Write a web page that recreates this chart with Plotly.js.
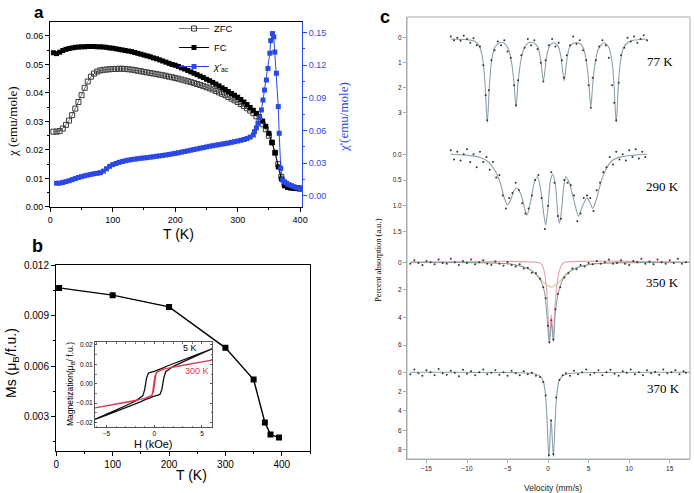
<!DOCTYPE html>
<html><head><meta charset="utf-8">
<script src="https://cdn.plot.ly/plotly-3.0.1.min.js"></script>
<style>html,body{margin:0;padding:0;background:#fff}#chart{width:694px;height:493px}</style>
</head><body><div id="chart"></div>
<script>
// ---------- Panel a : chi vs T ----------
const aT = [5,10,15,20,25,30,35,40,45,50,55,60,65,70,75,80,85,90,95,100,105,110,115,120,125,130,135,140,145,150,155,160,165,170,175,180,185,190,195,200,205,210,215,220,225,230,235,240,245,250,255,260,265,270,275,280,285,290,295,300,305,310,315,320,325,330,335,340,345,350,355,360,365,370,375,380,385,390,395,400];
const aZFC = [0.0264,0.0264,0.0266,0.0275,0.0288,0.0303,0.0322,0.0345,0.0368,0.0392,
0.0418,0.0440,0.0457,0.0468,0.0475,0.0479,0.0481,0.0482,0.0483,0.0484,
0.0484,0.0485,0.0485,0.0484,0.0483,0.0482,0.0480,0.0478,0.0476,0.0474,
0.0472,0.0470,0.0468,0.0466,0.0464,0.0462,0.0460,0.0457,0.0455,0.0452,
0.0450,0.0447,0.0444,0.0441,0.0438,0.0435,0.0431,0.0428,0.0424,0.0420,
0.0416,0.0412,0.0407,0.0402,0.0397,0.0392,0.0386,0.0380,0.0374,0.0368,
0.0361,0.0354,0.0346,0.0338,0.0329,0.0318,0.0306,0.0290,0.0272,0.0250,
0.0226,0.0190,0.0150,0.0105,0.0080,0.0072,0.0069,0.0067,0.0066,0.0065];
const aFC = [0.0541,0.0538,0.0543,0.0549,0.0553,0.0556,0.0558,0.0560,0.0561,0.0562,
0.0562,0.0563,0.0563,0.0563,0.0562,0.0562,0.0561,0.0560,0.0558,0.0557,
0.0555,0.0553,0.0551,0.0549,0.0547,0.0545,0.0542,0.0539,0.0536,0.0533,
0.0530,0.0527,0.0523,0.0520,0.0516,0.0512,0.0508,0.0504,0.0500,0.0497,
0.0493,0.0488,0.0484,0.0479,0.0474,0.0469,0.0464,0.0459,0.0454,0.0448,
0.0443,0.0437,0.0431,0.0425,0.0418,0.0412,0.0405,0.0398,0.0392,0.0385,
0.0377,0.0368,0.0359,0.0349,0.0339,0.0328,0.0316,0.0301,0.0283,0.0258,
0.0226,0.0190,0.0140,0.0098,0.0074,0.0068,0.0066,0.0065,0.0064,0.0063];
const acT = [10,15,20,25,30,35,40,45,50,55,60,65,70,75,80,85,90,95,100,105,110,115,120,125,130,135,140,145,150,155,160,165,170,175,180,185,190,195,200,205,210,215,220,225,230,235,240,245,250,255,260,265,270,275,280,285,290,295,300,305,310,315,320,325,
327,330,332.5,335,338,340.5,343,346,348.5,351.5,353,355.7,357.8,359.5,362,365,366.5,369,372,375,378,382,386,390,395,400];
const acV = [0.0117,0.0118,0.0124,0.0132,0.0140,0.0150,0.0160,0.0170,0.0178,0.0185,
0.0192,0.0198,0.0204,0.0208,0.0214,0.0228,0.0250,0.0272,0.0288,0.0298,
0.0308,0.0316,0.0323,0.0329,0.0334,0.0338,0.0342,0.0346,0.0349,0.0352,
0.0356,0.0360,0.0364,0.0368,0.0372,0.0376,0.0381,0.0386,0.0391,0.0396,
0.0402,0.0408,0.0414,0.0420,0.0426,0.0432,0.0438,0.0444,0.0450,0.0456,
0.0461,0.0466,0.0471,0.0476,0.0481,0.0486,0.0492,0.0498,0.0504,0.0511,
0.0518,0.0527,0.0540,0.0560,
0.0590,0.0625,0.0667,0.0720,0.0789,0.0880,0.0972,0.1064,0.1170,0.1310,0.1425,0.1490,0.1460,0.1320,0.1126,0.0820,0.0575,0.0254,0.0147,0.0130,0.0117,0.0105,0.0095,0.0085,0.0075,0.0064];

// ---------- Panel b : Ms vs T ----------
const bT  = [5,100,200,300,350,370,380,395];
const bMs = [0.01065,0.01022,0.00952,0.00709,0.00521,0.00266,0.00194,0.00176];

// inset loops
const h5  = [6.05,5,4,3,2,1.5,1,0.5,0,-0.3,-0.6,-0.8,-1.0,-1.2,-1.6,-2,-3,-4,-5,-6.2,
             -5,-4,-3,-2,-1.5,-1,-0.5,0,0.3,0.6,0.8,1.0,1.2,1.6,2,3,4,5,6.05];
const m5  = [0.0180,0.0161,0.0143,0.0124,0.0104,0.0094,0.0083,0.0072,0.0064,0.0060,0.0055,0.0030,-0.0030,-0.0062,-0.0078,-0.0090,-0.0113,-0.0135,-0.0158,-0.0183,
             -0.0161,-0.0143,-0.0124,-0.0104,-0.0094,-0.0083,-0.0072,-0.0064,-0.0060,-0.0055,-0.0030,0.0030,0.0062,0.0078,0.0090,0.0113,0.0135,0.0158,0.0180];
const h300 = [6.05,4,2,1,0.5,0.2,0.05,-0.1,-0.2,-0.35,-0.6,-1,-2,-4,-6.2,
              -4,-2,-1,-0.5,-0.2,-0.05,0.1,0.2,0.35,0.6,1,2,4,6.05];
const m300 = [0.0122,0.0104,0.0086,0.0076,0.0068,0.0058,0.0035,-0.0025,-0.0052,-0.0062,-0.0068,-0.0075,-0.0088,-0.0106,-0.0124,
              -0.0104,-0.0086,-0.0076,-0.0068,-0.0058,-0.0035,0.0025,0.0052,0.0062,0.0068,0.0075,0.0088,0.0106,0.0122];

// ---------- Panel c : Mossbauer spectra ----------
const f77V = [-12,-10,-9,-8.4,-8.0,-7.75,-7.5,-7.25,-7.0,-6.6,-6.0,-5.5,-4.9,-4.5,-4.2,-3.95,-3.7,-3.4,-3.0,-2.4,-1.8,-1.3,-0.95,-0.58,-0.2,0.15,0.7,1.25,1.6,1.98,2.35,2.7,3.3,4.0,4.4,4.75,5.02,5.27,5.52,5.8,6.2,6.9,7.5,7.9,8.15,8.4,8.65,8.9,9.3,10,11,12.2];
const f77  = [0.05,0.08,0.15,0.4,1.0,2.0,3.4,2.0,1.0,0.4,0.2,0.2,0.45,1.0,1.8,2.78,1.8,1.0,0.45,0.2,0.2,0.35,0.8,1.72,0.8,0.35,0.2,0.35,0.8,1.72,0.8,0.35,0.2,0.25,0.45,1.0,1.8,2.78,1.8,1.0,0.45,0.2,0.4,1.0,2.0,3.4,2.0,1.0,0.4,0.15,0.08,0.05];
const d77V = [-12.0,-11.6,-11.2,-10.8,-10.4,-10.0,-9.6,-9.2,-8.8,-8.4,-8.0,-7.7,-7.5,-7.3,-7.0,-6.6,-6.2,-5.8,-5.4,-5.0,-4.6,-4.2,-3.95,-3.7,-3.3,-2.9,-2.5,-2.1,-1.7,-1.3,-0.9,-0.58,-0.3,0.1,0.5,0.9,1.3,1.7,1.98,2.3,2.7,3.1,3.5,3.9,4.3,4.7,5.0,5.27,5.5,5.9,6.3,6.7,7.1,7.5,7.9,8.15,8.4,8.7,9.0,9.4,9.8,10.2,10.6,11.0,11.4,11.8,12.2];
const d77  = [-0.05,0.10,0.0,0.12,-0.08,0.05,0.2,0.02,0.3,0.35,1.1,2.3,3.3,2.1,0.9,0.5,0.15,0.3,0.1,0.55,0.8,1.9,2.7,1.7,0.7,0.4,0.05,0.3,0.1,0.45,1.0,1.75,0.9,0.3,0.05,0.35,0.2,0.9,1.6,0.7,0.3,-0.05,0.25,0.1,0.5,0.9,1.9,2.8,1.6,0.9,0.35,0.1,0.3,0.8,1.9,2.6,3.3,1.8,0.7,0.4,0.0,0.15,-0.05,0.2,0.05,-0.1,0.1];

const f290V = [-12,-10,-8.4,-7.4,-6.6,-5.9,-5.4,-5.0,-4.6,-4.2,-3.8,-3.3,-2.9,-2.6,-2.2,-1.7,-1.3,-0.9,-0.5,-0.3,-0.05,0.3,0.58,0.9,1.2,1.4,1.65,1.95,2.2,2.6,3.2,3.75,4.25,4.8,5.2,5.5,5.9,6.6,7.2,7.9,9.0,10.5,12.2];
const f290  = [0.0,0.02,0.06,0.14,0.3,0.55,0.85,0.98,0.88,0.7,0.66,0.8,1.05,1.18,0.95,0.55,0.43,0.7,1.2,1.37,1.1,0.5,0.39,0.6,1.15,1.34,1.1,0.6,0.43,0.55,0.9,1.2,1.0,0.85,0.95,1.05,0.9,0.5,0.27,0.12,0.05,0.02,0.0];
const d290V = [-12.0,-11.6,-11.2,-10.8,-10.4,-10.0,-9.6,-9.2,-8.8,-8.4,-8.0,-7.6,-7.2,-6.8,-6.4,-6.0,-5.6,-5.2,-4.8,-4.4,-4.0,-3.6,-3.2,-2.8,-2.4,-2.0,-1.6,-1.2,-0.8,-0.4,0.0,0.4,0.8,1.2,1.6,2.0,2.4,2.8,3.2,3.6,4.0,4.4,4.8,5.2,5.6,6.0,6.4,6.8,7.2,7.6,8.0,8.4,8.8,9.2,9.6,10.0,10.4,10.8,11.2,11.6,12.0];
const d290  = [-0.08,0.1,-0.05,0.12,0.0,-0.1,0.15,0.0,0.25,-0.05,0.15,0.05,0.3,0.15,0.45,0.4,0.8,1.05,0.85,0.75,0.55,0.7,0.95,1.15,1.05,0.8,0.5,0.4,0.85,1.45,1.0,0.35,0.55,1.2,1.25,0.5,0.55,0.6,0.8,1.3,1.15,0.85,0.8,0.85,1.1,0.7,0.55,0.35,0.25,0.05,0.2,-0.05,0.1,0.0,0.12,-0.08,0.05,-0.1,0.08,-0.05,0.05];

const f350V = [-17,-8,-5,-3.2,-2,-1.2,-0.7,-0.4,-0.15,0.16,0.4,0.65,0.9,1.2,1.5,2.0,2.8,4.0,5.8,8.8,17.5];
const f350  = [0,0.03,0.1,0.3,0.62,1.05,1.6,2.3,3.8,5.9,4.3,5.75,3.6,2.4,1.7,1.05,0.62,0.3,0.1,0.03,0];
const p350V = [-17,-1.2,-0.8,-0.5,-0.25,-0.05,0.16,0.4,0.65,0.85,1.1,1.4,1.7,2.0,17.5];
const p350  = [0,0.02,0.15,0.6,1.6,3.2,5.6,3.8,5.5,3.2,1.6,0.6,0.15,0.02,0];
const g350V = [-17,-8,-5,-3.2,-2,-1.2,-0.6,0.4,1.4,2.0,2.8,4.0,5.8,8.8,17.5];
const g350  = [0,0.03,0.1,0.3,0.6,1.0,1.4,1.8,1.4,1.0,0.6,0.3,0.1,0.03,0];
const d350V = [-17.0,-16.5,-16.0,-15.5,-15.0,-14.5,-14.0,-13.5,-13.0,-12.5,-12.0,-11.5,-11.0,-10.5,-10.0,-9.5,-9.0,-8.5,-8.0,-7.5,-7.0,-6.5,-6.0,-5.5,-5.0,-4.5,-4.0,-3.5,-3.0,-2.5,-2.0,-1.5,
-1.0,-0.6,-0.3,0.0,0.16,0.4,0.65,0.9,1.2,1.5,
2.0,2.5,3.0,3.5,4.0,4.5,5.0,5.5,6.0,6.5,7.0,7.5,8.0,8.5,9.0,9.5,10.0,10.5,11.0,11.5,12.0,12.5,13.0,13.5,14.0,14.5,15.0,15.5,16.0,16.5,17.0];
const d350  = [0.1,-0.15,0.05,0.2,-0.1,0.0,0.15,-0.2,0.05,0.1,-0.25,0.0,0.2,-0.1,0.05,-0.2,0.15,0.0,-0.15,0.1,0.2,-0.05,0.1,0.25,0.0,0.2,0.3,0.15,0.45,0.4,0.75,0.8,
1.2,1.8,2.6,4.6,5.8,4.2,5.6,3.4,2.3,1.8,
1.1,0.8,0.45,0.5,0.2,0.3,0.05,0.15,-0.1,0.1,0.0,-0.2,0.1,0.05,-0.15,0.1,0.2,-0.1,0.0,-0.25,0.1,-0.05,0.15,-0.2,0.0,0.1,-0.15,0.05,-0.25,0.1,0.0];

const f370V = [-17,-5,-2.5,-1.5,-1.0,-0.6,-0.3,-0.1,0.1,0.37,0.65,0.85,1.05,1.35,1.75,2.25,3.25,5.75,17.5];
const f370  = [0,0.02,0.08,0.2,0.4,0.9,2.5,5.5,8.8,4.9,8.75,5.5,2.5,0.9,0.4,0.2,0.08,0.02,0];
const d370V = [-17.0,-16.5,-16.0,-15.5,-15.0,-14.5,-14.0,-13.5,-13.0,-12.5,-12.0,-11.5,-11.0,-10.5,-10.0,-9.5,-9.0,-8.5,-8.0,-7.5,-7.0,-6.5,-6.0,-5.5,-5.0,-4.5,-4.0,-3.5,-3.0,-2.5,-2.0,-1.5,-1.0,
-0.6,-0.3,0.1,0.37,0.65,1.0,1.4,1.8,2.2,
2.7,3.2,3.7,4.2,4.7,5.2,5.7,6.2,6.7,7.2,7.7,8.2,8.7,9.2,9.7,10.2,10.7,11.2,11.7,12.2,12.7,13.2,13.7,14.2,14.7,15.2,15.7,16.2,16.7,17.0];
const d370  = [0.2,-0.3,0.1,0.35,-0.2,0.0,0.3,-0.35,0.1,0.25,-0.15,0.05,0.4,-0.25,0.15,-0.1,0.3,0.0,-0.3,0.2,0.05,-0.2,0.25,0.0,0.35,-0.15,0.1,0.3,-0.1,0.2,0.05,0.35,0.5,
1.0,2.4,8.6,5.0,8.5,2.6,0.8,0.3,0.1,
0.35,-0.15,0.2,0.0,-0.3,0.25,0.05,-0.2,0.3,0.0,-0.25,0.15,0.35,-0.1,0.05,-0.3,0.2,0.0,0.3,-0.2,0.1,-0.05,0.25,-0.3,0.1,0.0,-0.2,0.2,-0.1,0.05];

const aTicksRight = [0,0.03,0.06,0.09,0.12,0.15];

// ---------- layout helpers ----------
const W = 694, H = 493;
const fx = p => p / W;
const fy = p => 1 - p / H;
const SANS = 'Arial, "Liberation Sans", sans-serif';
const SERIF = '"Times New Roman", "Liberation Serif", serif';
const BLUE = '#2a48e6';
const CGRID = '#a3adb2';
const FITC = '#8ca0aa';

const traces = [
  {x: aT, y: aZFC, xaxis:'x', yaxis:'y', name:'ZFC', mode:'lines+markers',
   line:{color:'#7a7a7a', width:1}, marker:{symbol:'square-open', size:5, color:'#3a3a3a', line:{width:1}}},
  {x: aT, y: aFC, xaxis:'x', yaxis:'y', name:'FC', mode:'lines+markers',
   line:{color:'#000', width:1}, marker:{symbol:'square', size:5, color:'#000'}},
  {x: acT, y: acV, xaxis:'x', yaxis:'y2', name:"<i>χ'</i><sub>ac</sub>", mode:'lines+markers',
   line:{color:BLUE, width:1}, marker:{symbol:'square', size:5, color:BLUE}},

  {x: bT, y: bMs, xaxis:'x2', yaxis:'y3', mode:'lines+markers', showlegend:false,
   line:{color:'#000', width:1.4}, marker:{symbol:'square', size:6, color:'#000'}},
  {x: h5, y: m5, xaxis:'x3', yaxis:'y4', mode:'lines', showlegend:false, line:{color:'#111', width:1.3}},
  {x: h300, y: m300, xaxis:'x3', yaxis:'y4', mode:'lines', showlegend:false, line:{color:'#e23552', width:1.1}},

  {x: f77V, y: f77, xaxis:'x4', yaxis:'y5', mode:'lines', showlegend:false, line:{color:FITC, width:1.1, shape:'spline', smoothing:0.8}},
  {x: d77V, y: d77, xaxis:'x4', yaxis:'y5', mode:'markers', showlegend:false, marker:{size:2, color:'#333'}},
  {x: f290V, y: f290, xaxis:'x4', yaxis:'y6', mode:'lines', showlegend:false, line:{color:FITC, width:1.1, shape:'spline', smoothing:0.8}},
  {x: d290V, y: d290, xaxis:'x4', yaxis:'y6', mode:'markers', showlegend:false, marker:{size:2, color:'#333'}},
  {x: g350V, y: g350, xaxis:'x4', yaxis:'y7', mode:'lines', showlegend:false, line:{color:'#c9d98a', width:1.2, shape:'spline', smoothing:0.8}},
  {x: p350V, y: p350, xaxis:'x4', yaxis:'y7', mode:'lines', showlegend:false, line:{color:'#eaa2ad', width:1.1, shape:'spline', smoothing:0.8}},
  {x: f350V, y: f350, xaxis:'x4', yaxis:'y7', mode:'lines', showlegend:false, line:{color:FITC, width:1.1, shape:'spline', smoothing:0.8}},
  {x: d350V, y: d350, xaxis:'x4', yaxis:'y7', mode:'markers', showlegend:false, marker:{size:2, color:'#333'}},
  {x: f370V, y: f370, xaxis:'x4', yaxis:'y8', mode:'lines', showlegend:false, line:{color:FITC, width:1.1, shape:'spline', smoothing:0.8}},
  {x: d370V, y: d370, xaxis:'x4', yaxis:'y8', mode:'markers', showlegend:false, marker:{size:2, color:'#333'}}
];

const baseAx = {showgrid:false, zeroline:false, showline:true, linecolor:'#000', linewidth:1,
  ticks:'outside', ticklen:4, tickwidth:1, tickcolor:'#000', tickfont:{family:SANS, size:9, color:'#000'}};

function cAxis(d0, d1, range, vals, fmt){
  return {domain:[fy(d1), fy(d0)], anchor:'x4', range:range, tickmode:'array', tickvals:vals,
    tickformat:fmt, showgrid:false, zeroline:false, showline:true, linecolor:CGRID, linewidth:1,
    ticks:'outside', ticklen:3, tickcolor:CGRID, tickfont:{family:SANS, size:6.5, color:'#222'}};
}
// tick-only overlay axes (inner ticks on top / right borders)
function innerAx(over, side, anchor, range, dtick, mdtick){
  return {overlaying:over, side:side, anchor:anchor, range:range, tickmode:'linear', tick0:0, dtick:dtick,
    showticklabels:false, ticks:'inside', ticklen:4, tickcolor:'#000', showline:false, showgrid:false, zeroline:false,
    minor:{ticks:'inside', ticklen:2, dtick:mdtick, tick0:0, tickcolor:'#000'}};
}

const layout = {
  width: W, height: H, margin:{l:0, r:0, t:0, b:0},
  paper_bgcolor:'#fff', plot_bgcolor:'rgba(0,0,0,0)',
  font:{family:SANS, color:'#000'},
  showlegend:true,
  legend:{x:fx(174), y:fy(14), xanchor:'left', yanchor:'top', bgcolor:'rgba(0,0,0,0)',
          font:{family:SANS, size:9.5}, tracegroupgap:0},
  xaxis: Object.assign({}, baseAx, {domain:[fx(50), fx(302)], anchor:'y', range:[-0.5, 403],
          tickmode:'linear', tick0:0, dtick:100, mirror:true,
          minor:{ticks:'outside', ticklen:2, dtick:50, tick0:0, tickcolor:'#000'}}),
  xaxis5: innerAx('x', 'top', 'y', [-0.5, 403], 100, 50),
  yaxis: Object.assign({}, baseAx, {domain:[fy(207), fy(22)], anchor:'x', range:[-0.00005, 0.0649],
          tickmode:'linear', tick0:0, dtick:0.01, tickformat:'.2f',
          minor:{ticks:'outside', ticklen:2, dtick:0.005, tick0:0, tickcolor:'#000'}}),
  yaxis2: Object.assign({}, baseAx, {overlaying:'y', side:'right', anchor:'x', range:[-0.0101, 0.1596],
          tickmode:'array', tickvals:aTicksRight, tickformat:'.2f', linecolor:BLUE, tickcolor:BLUE,
          tickfont:{family:SANS, size:9, color:BLUE},
          minor:{ticks:'outside', ticklen:2, dtick:0.015, tick0:0, tickcolor:BLUE}}),

  xaxis2: Object.assign({}, baseAx, {domain:[fx(56), fx(310)], anchor:'y3', range:[-0.5, 450],
          tickmode:'linear', tick0:0, dtick:100, mirror:true, tickfont:{family:SANS, size:10},
          minor:{ticks:'outside', ticklen:2, dtick:50, tick0:0, tickcolor:'#000'}}),
  xaxis6: innerAx('x2', 'top', 'y3', [-0.5, 450], 100, 50),
  yaxis3: Object.assign({}, baseAx, {domain:[fy(450.7), fy(265)], anchor:'x2', range:[0.00098, 0.01201],
          tickmode:'linear', tick0:0, dtick:0.003, tickformat:'.3f', mirror:true, tickfont:{family:SANS, size:10},
          minor:{ticks:'outside', ticklen:2, dtick:0.0015, tick0:0, tickcolor:'#000'}}),
  yaxis9: innerAx('y3', 'right', 'x2', [0.00098, 0.01201], 0.003, 0.0015),

  xaxis3: Object.assign({}, baseAx, {domain:[fx(95), fx(212)], anchor:'y4', range:[-6.2, 6.05],
          tickmode:'array', tickvals:[-5,0,5], ticks:'inside', ticklen:2, mirror:'allticks', linecolor:'#555', tickcolor:'#555',
          tickfont:{family:SANS, size:6.5},
          minor:{ticks:'inside', ticklen:1.5, dtick:1, tick0:0, tickcolor:'#777'}}),
  yaxis4: Object.assign({}, baseAx, {domain:[fy(427.3), fy(342)], anchor:'x3', range:[-0.0224, 0.0215],
          tickmode:'array', tickvals:[-0.02,-0.01,0,0.01,0.02], tickformat:'.2f', ticks:'inside', ticklen:2,
          mirror:'allticks', linecolor:'#555', tickcolor:'#555', tickfont:{family:SANS, size:6.5},
          minor:{ticks:'inside', ticklen:1.5, dtick:0.005, tick0:0, tickcolor:'#777'}}),

  xaxis4: {domain:[fx(407), fx(690)], anchor:'y8', range:[-17.4, 17.5], tickmode:'linear', tick0:0, dtick:5,
          showgrid:false, zeroline:false, showline:true, linecolor:CGRID, ticks:'outside', ticklen:3, tickcolor:CGRID,
          tickfont:{family:SANS, size:6.5, color:'#222'}},
  yaxis5: cAxis(17, 135, [3.89, -0.83], [0,1,2,3], 'd'),
  yaxis6: cAxis(135, 245, [1.761, -0.375], [0,0.5,1.0,1.5], '.1f'),
  yaxis7: cAxis(245, 352, [6.5, -1.254], [0,2,4,6], 'd'),
  yaxis8: cAxis(352, 459, [8.98, -2.10], [0,2,4,6,8], 'd'),

  shapes:[
    {type:'rect', xref:'paper', yref:'paper', x0:fx(407), x1:fx(690), y0:fy(459), y1:fy(17),
     line:{color:CGRID, width:1}, fillcolor:'rgba(0,0,0,0)'}
  ],
  annotations:[
    {text:'<b>a</b>', x:fx(39), y:fy(1), yanchor:'top', font:{family:SANS, size:17}},
    {text:'<b>b</b>', x:fx(37), y:fy(246), font:{family:SANS, size:18}},
    {text:'<b>c</b>', x:fx(385), y:fy(17), font:{family:SANS, size:18}},
    {text:'χ (emu/mole)', x:fx(12), y:fy(122), textangle:-90, font:{family:SERIF, size:13}},
    {text:'T (K)', x:fx(178), y:fy(234), font:{family:SANS, size:14}},
    {text:"χ'(emu/mole)", x:fx(343), y:fy(117), textangle:-90, font:{family:SERIF, size:13, color:BLUE}},
    {text:'Ms (μ<sub>B</sub>/f.u.)', x:fx(12), y:fy(363), textangle:-90, font:{family:SANS, size:14}},
    {text:'T (K)', x:fx(191), y:fy(475), font:{family:SANS, size:14}},
    {text:'H (kOe)', x:fx(153), y:fy(444), font:{family:SANS, size:11}},
    {text:'Magnetization(μ<sub>B</sub>/ f.u.)', x:fx(70), y:fy(384), textangle:-90, font:{family:SANS, size:8.5}},
    {text:'5 K', x:fx(190), y:fy(348), font:{family:SANS, size:9, color:'#000'}},
    {text:'300 K', x:fx(197), y:fy(371), font:{family:SANS, size:9, color:'#e23552'}},
    {text:'Percent absorption (a.u.)', x:fx(378), y:fy(260), textangle:-90, font:{family:SERIF, size:8.5}},
    {text:'Velocity (mm/s)', x:fx(553), y:fy(488), font:{family:SANS, size:8.5, color:'#222'}},
    {text:'77 K', x:fx(660), y:fy(61), font:{family:SERIF, size:13}},
    {text:'290 K', x:fx(662), y:fy(186), font:{family:SERIF, size:13}},
    {text:'350 K', x:fx(662), y:fy(282), font:{family:SERIF, size:13}},
    {text:'370 K', x:fx(663), y:fy(388), font:{family:SERIF, size:13}}
  ].map(a => Object.assign({xref:'paper', yref:'paper', showarrow:false, xanchor:'center', yanchor:'middle'}, a))
};

Plotly.newPlot('chart', traces, layout, {staticPlot:true, displayModeBar:false});
</script></body></html>
